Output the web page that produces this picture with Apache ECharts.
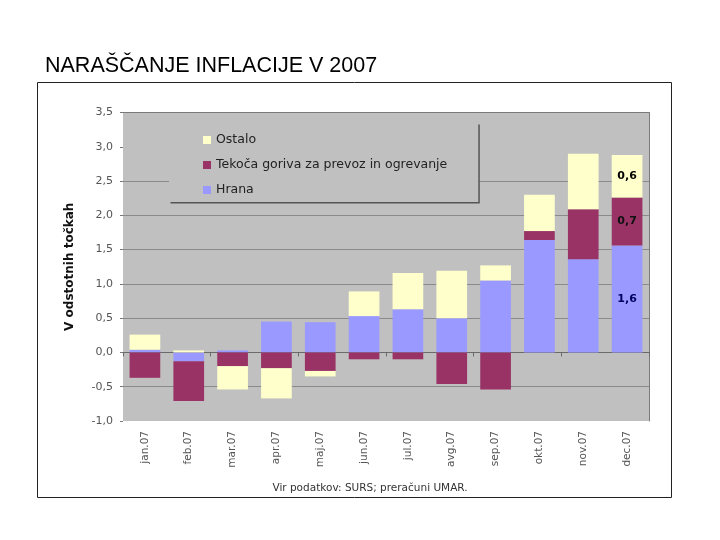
<!DOCTYPE html>
<html>
<head>
<meta charset="utf-8">
<script src="https://cdn.jsdelivr.net/npm/echarts@6/dist/echarts.min.js"></script>
<style>html,body{margin:0;padding:0;background:#fff;}#c{width:720px;height:540px;}</style>
</head>
<body>
<div id="c"></div>
<script>
const categories = ['jan.07','feb.07','mar.07','apr.07','maj.07','jun.07','jul.07','avg.07','sep.07','okt.07','nov.07','dec.07'];
const hrana  = [0.04, -0.13, 0.03, 0.45, 0.44, 0.53, 0.63, 0.50, 1.05, 1.64, 1.36, 1.56];
const tekoca = [-0.37, -0.58, -0.20, -0.23, -0.27, -0.10, -0.10, -0.46, -0.54, 0.13, 0.73, 0.70];
const ostalo = [0.22, 0.03, -0.34, -0.44, -0.08, 0.36, 0.53, 0.69, 0.22, 0.53, 0.81, 0.62];
const labelledIndex = 11;
const seriesNames = ['Hrana', 'Tekoča goriva za prevoz in ogrevanje', 'Ostalo'];

const fmt = v => v.toFixed(1).replace('.', ',');
const FONT = 'DejaVu Sans';

function withLabels(arr, color) {
  return arr.map((v, i) => i === labelledIndex
    ? { value: v, label: { show: true, position: 'inside', formatter: p => fmt(Math.round(p.value * 10) / 10),
        fontFamily: FONT, fontWeight: 'bold', fontSize: 11, color: color } }
    : v);
}

const chart = echarts.init(document.getElementById('c'), null, { renderer: 'canvas' });
chart.setOption({
  animation: false,
  backgroundColor: '#ffffff',
  title: [
    { text: 'NARAŠČANJE INFLACIJE V 2007', left: 45, top: 55, padding: 0,
      textStyle: { fontFamily: 'Liberation Sans', fontWeight: 'normal', fontSize: 21.5, color: '#000' } },
    { text: 'Vir podatkov: SURS; preračuni UMAR.', left: 370, top: 483, padding: 0, textAlign: 'center',
      textStyle: { fontFamily: FONT, fontWeight: 'normal', fontSize: 10.5, color: '#333' } }
  ],
  graphic: [
    { type: 'rect', shape: { x: 37.5, y: 82.5, width: 634, height: 415 },
      style: { fill: 'none', stroke: '#222', lineWidth: 1 }, z: 100 }
  ],
  legend: {
    orient: 'vertical', left: 169, top: 123,
    padding: [10, 31, 5, 34],
    data: ['Ostalo', 'Tekoča goriva za prevoz in ogrevanje', 'Hrana'],
    icon: 'rect', itemWidth: 8, itemHeight: 8, itemGap: 11,
    backgroundColor: '#C0C0C0', borderWidth: 0,
    shadowColor: '#555', shadowBlur: 0, shadowOffsetX: 1.5, shadowOffsetY: 1.5,
    textStyle: { fontFamily: FONT, fontSize: 12.5, lineHeight: 14, color: '#222' }
  },
  grid: { left: 123, right: 71, top: 112.5, bottom: 119, show: true, backgroundColor: '#C0C0C0',
    borderWidth: 0, containLabel: false, outerBoundsMode: 'none' },
  xAxis: [
    { type: 'category', data: categories, position: 'bottom',
      axisLine: { show: false, onZero: false }, axisTick: { show: false },
      axisLabel: { rotate: 90, margin: 10, fontFamily: FONT, fontSize: 10.5, color: '#555' } },
    { type: 'category', data: categories, position: 'bottom',
      axisLine: { show: true, onZero: true, lineStyle: { color: '#6a6a6a', width: 1 } },
      axisTick: { show: true, length: 4, lineStyle: { color: '#6a6a6a' } },
      axisLabel: { show: false }, splitLine: { show: false } }
  ],
  yAxis: [
    { type: 'value', min: -1, max: 3.5, interval: 0.5,
      name: 'V odstotnih točkah', nameLocation: 'middle', nameGap: 47, nameRotate: 90,
      nameTextStyle: { fontFamily: FONT, fontWeight: 'bold', fontSize: 12, color: '#111' },
      axisLine: { show: false },
      axisTick: { show: true, length: 3, lineStyle: { color: '#777' } },
      axisLabel: { formatter: fmt, margin: 10, fontFamily: FONT, fontSize: 11, color: '#555' },
      splitLine: { show: true, lineStyle: { width: 1,
        color: ['rgba(0,0,0,0)', '#8a8a8a', '#8a8a8a', '#8a8a8a', '#8a8a8a', '#8a8a8a', '#8a8a8a', '#8a8a8a', 'rgba(0,0,0,0)', '#7a7a7a'] } } },
    { type: 'value', min: -1, max: 3.5, interval: 0.5, position: 'right',
      axisLine: { show: true, onZero: false, lineStyle: { color: '#7a7a7a' } },
      axisTick: { show: false }, axisLabel: { show: false }, splitLine: { show: false } }
  ],
  series: [
    { name: seriesNames[0], type: 'bar', stack: 'a', xAxisIndex: 0, yAxisIndex: 0,
      barCategoryGap: '30%', itemStyle: { color: '#9999FF' }, data: withLabels(hrana, '#000060') },
    { name: seriesNames[1], type: 'bar', stack: 'a', xAxisIndex: 0, yAxisIndex: 0,
      barCategoryGap: '30%', itemStyle: { color: '#993366' }, data: withLabels(tekoca, '#111') },
    { name: seriesNames[2], type: 'bar', stack: 'a', xAxisIndex: 0, yAxisIndex: 0,
      barCategoryGap: '30%', itemStyle: { color: '#FFFFCC' }, data: withLabels(ostalo, '#000') }
  ]
});
</script>
</body>
</html>
